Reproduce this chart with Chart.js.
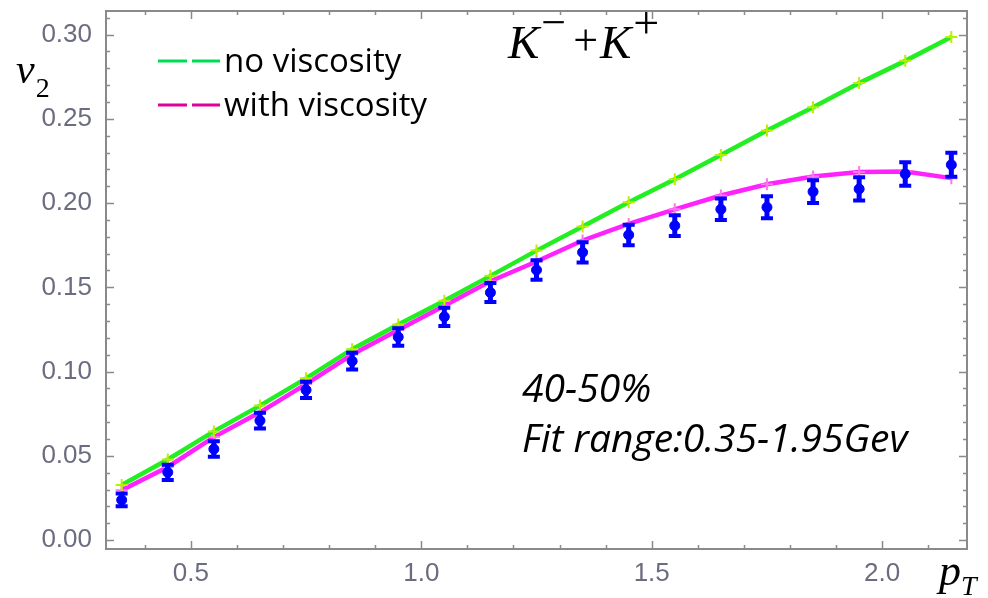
<!DOCTYPE html>
<html>
<head>
<meta charset="utf-8">
<script src="https://cdn.jsdelivr.net/npm/chart.js@4"></script>
<style>
  body { margin: 0; background: #fff; }
  #chart { display: block; }
</style>
</head>
<body>
<canvas id="chart" width="988" height="598"></canvas>
<script>
const PT = [0.35, 0.45, 0.55, 0.65, 0.75, 0.85, 0.95, 1.05, 1.15, 1.25,
            1.35, 1.45, 1.55, 1.65, 1.75, 1.85, 1.95, 2.05, 2.15];
const NO_VISC = [0.0327, 0.0478, 0.0645, 0.0798, 0.0960, 0.1133, 0.1280, 0.1420, 0.1568, 0.1718,
                 0.1861, 0.2005, 0.2142, 0.2286, 0.2431, 0.2569, 0.2712, 0.2844, 0.2985];
const WITH_VISC = [0.0295, 0.0434, 0.0611, 0.0758, 0.0926, 0.1101, 0.1247, 0.1390, 0.1536, 0.1653,
                   0.1778, 0.1876, 0.1963, 0.2045, 0.2112, 0.2158, 0.2184, 0.2187, 0.2148];
const DATA_V2 = [0.0238, 0.0402, 0.0540, 0.0709, 0.0891, 0.1062, 0.1205, 0.1325, 0.1469, 0.1603,
                 0.1708, 0.1811, 0.1866, 0.1963, 0.1975, 0.2068, 0.2084, 0.2173, 0.2227];
const DATA_ERR = [0.0038, 0.0045, 0.0046, 0.0047, 0.0048, 0.0050, 0.0052, 0.0054, 0.0056, 0.0058,
                  0.0060, 0.0061, 0.0062, 0.0064, 0.0065, 0.0067, 0.0069, 0.0070, 0.0071];

const X_TICKS = [0.5, 1.0, 1.5, 2.0];
const Y_TICKS = [0.00, 0.05, 0.10, 0.15, 0.20, 0.25, 0.30];

const TICK_COLOR = "#6c6c80";
const FRAME_COLOR = "#8a8a8a";

function points(ys) {
  return PT.map((x, i) => ({ x: x, y: ys[i] }));
}

// inward ticks + box frame, Mathematica style
const framePlugin = {
  id: "frame",
  afterDraw(chart) {
    const { ctx, chartArea: a, scales } = chart;
    const xs = scales.x, ys = scales.y;
    ctx.save();
    ctx.strokeStyle = FRAME_COLOR;
    ctx.lineWidth = 2;
    ctx.strokeRect(a.left, a.top, a.right - a.left, a.bottom - a.top);
    ctx.lineWidth = 1.5;
    ctx.beginPath();
    for (let v = 0.4; v <= 2.15; v += 0.1) {
      const major = X_TICKS.some(t => Math.abs(t - v) < 1e-6);
      const len = major ? 8 : 4;
      const px = Math.round(xs.getPixelForValue(v)) + 0.5;
      ctx.moveTo(px, a.bottom); ctx.lineTo(px, a.bottom - len);
      ctx.moveTo(px, a.top); ctx.lineTo(px, a.top + len);
    }
    for (let k = 0; k <= 31; k++) {
      const v = k / 100;
      const major = k % 5 === 0;
      const len = major ? 8 : 4;
      const py = Math.round(ys.getPixelForValue(v)) + 0.5;
      ctx.moveTo(a.left, py); ctx.lineTo(a.left + len, py);
      ctx.moveTo(a.right, py); ctx.lineTo(a.right - len, py);
    }
    ctx.stroke();
    ctx.restore();
  }
};

// vertical error bars with caps on the measured points
const errorBarPlugin = {
  id: "errbars",
  afterDatasetsDraw(chart) {
    const { ctx, scales } = chart;
    ctx.save();
    ctx.strokeStyle = "#0000ff";
    ctx.lineCap = "butt";
    PT.forEach((x, i) => {
      const px = scales.x.getPixelForValue(x);
      const top = scales.y.getPixelForValue(DATA_V2[i] + DATA_ERR[i]);
      const bot = scales.y.getPixelForValue(DATA_V2[i] - DATA_ERR[i]);
      ctx.lineWidth = 5;
      ctx.beginPath();
      ctx.moveTo(px, top); ctx.lineTo(px, bot);
      ctx.stroke();
      ctx.lineWidth = 4;
      ctx.beginPath();
      ctx.moveTo(px - 6, top); ctx.lineTo(px + 6, top);
      ctx.moveTo(px - 6, bot); ctx.lineTo(px + 6, bot);
      ctx.stroke();
    });
    ctx.restore();
  }
};

function drawParts(ctx, parts, x, y) {
  parts.forEach(p => {
    ctx.font = p.font;
    ctx.fillText(p.text, x, y + (p.dy || 0));
    x += ctx.measureText(p.text).width + (p.gap || 0);
  });
}

// labels, legend and annotations placed like the original figure
const textPlugin = {
  id: "texts",
  afterDraw(chart) {
    const ctx = chart.ctx;
    ctx.save();
    ctx.fillStyle = "#000";
    ctx.textBaseline = "alphabetic";
    ctx.textAlign = "left";

    const serifI = sz => "italic " + sz + "px 'Liberation Serif', 'DejaVu Serif', serif";
    const serif = sz => sz + "px 'Liberation Serif', 'DejaVu Serif', serif";

    drawParts(ctx, [
      { text: "K", font: serifI(47), gap: 2 },
      { text: "\u2212", font: serif(44), dy: -21, gap: 7 },
      { text: "+", font: serif(44), dy: -3, gap: 2 },
      { text: "K", font: serifI(47), gap: 2 },
      { text: "+", font: serif(46), dy: -20 }
    ], 508, 58);

    drawParts(ctx, [
      { text: "v", font: serifI(42), gap: 1 },
      { text: "2", font: serif(28), dy: 14 }
    ], 16, 83);

    drawParts(ctx, [
      { text: "p", font: serifI(44), gap: 0 },
      { text: "T", font: serifI(28), dy: 10 }
    ], 939, 585);

    // legend
    const legend = [
      { label: "no viscosity", color: "#00dd55", y: 61 },
      { label: "with viscosity", color: "#dd0099", y: 105 }
    ];
    legend.forEach(item => {
      ctx.strokeStyle = item.color;
      ctx.lineWidth = 3;
      ctx.beginPath();
      ctx.moveTo(158, item.y); ctx.lineTo(187, item.y);
      ctx.moveTo(192, item.y); ctx.lineTo(220, item.y);
      ctx.stroke();
      ctx.font = "33px 'Open Sans', sans-serif";
      ctx.fillText(item.label, 224, item.y + 11);
    });

    ctx.font = "italic 39px 'Open Sans', sans-serif";
    ctx.fillText("40-50%", 522, 402);
    ctx.fillText("Fit range:0.35-1.95Gev", 522, 452);
    ctx.restore();
  }
};

const tickFont = { family: "'Liberation Sans', Arial, sans-serif", size: 26 };

new Chart(document.getElementById("chart").getContext("2d"), {
  type: "scatter",
  data: {
    datasets: [
      {
        label: "data",
        data: points(DATA_V2),
        pointStyle: "circle",
        pointRadius: 5,
        backgroundColor: "#0000ff",
        borderColor: "#0000ff",
        showLine: false,
        order: 0
      },
      {
        label: "no viscosity",
        data: points(NO_VISC),
        showLine: true,
        borderColor: "#22ee22",
        borderWidth: 4.5,
        pointStyle: "cross",
        pointRadius: 6,
        pointBorderWidth: 2,
        pointBorderColor: "#bbee00",
        backgroundColor: "#bbee00",
        tension: 0,
        order: 1
      },
      {
        label: "with viscosity",
        data: points(WITH_VISC),
        showLine: true,
        borderColor: "#ff22ff",
        borderWidth: 4.5,
        pointStyle: "cross",
        pointRadius: 6,
        pointBorderWidth: 2,
        pointBorderColor: "#ff77ee",
        backgroundColor: "#ff77ee",
        tension: 0,
        order: 2
      }
    ]
  },
  options: {
    responsive: false,
    animation: false,
    layout: { padding: { top: 11, right: 21, left: 0, bottom: 0 } },
    plugins: {
      legend: { display: false },
      tooltip: { enabled: false }
    },
    scales: {
      x: {
        type: "linear",
        min: 0.316,
        max: 2.184,
        afterBuildTicks: s => { s.ticks = X_TICKS.map(v => ({ value: v })); },
        afterFit: s => { s.height = 49; s.paddingLeft = 0; s.paddingRight = 0; },
        grid: { display: false, drawTicks: false },
        border: { display: false },
        ticks: {
          color: TICK_COLOR,
          font: tickFont,
          padding: 9,
          maxRotation: 0,
          autoSkip: false,
          callback: v => v.toFixed(1)
        }
      },
      y: {
        type: "linear",
        min: -0.0053,
        max: 0.314,
        afterBuildTicks: s => { s.ticks = Y_TICKS.map(v => ({ value: v })); },
        afterFit: s => { s.width = 106; s.paddingTop = 0; s.paddingBottom = 0; },
        grid: { display: false, drawTicks: false },
        border: { display: false },
        ticks: {
          color: TICK_COLOR,
          font: tickFont,
          padding: 14,
          autoSkip: false,
          callback: v => v.toFixed(2)
        }
      }
    }
  },
  plugins: [framePlugin, errorBarPlugin, textPlugin]
});
</script>
</body>
</html>
